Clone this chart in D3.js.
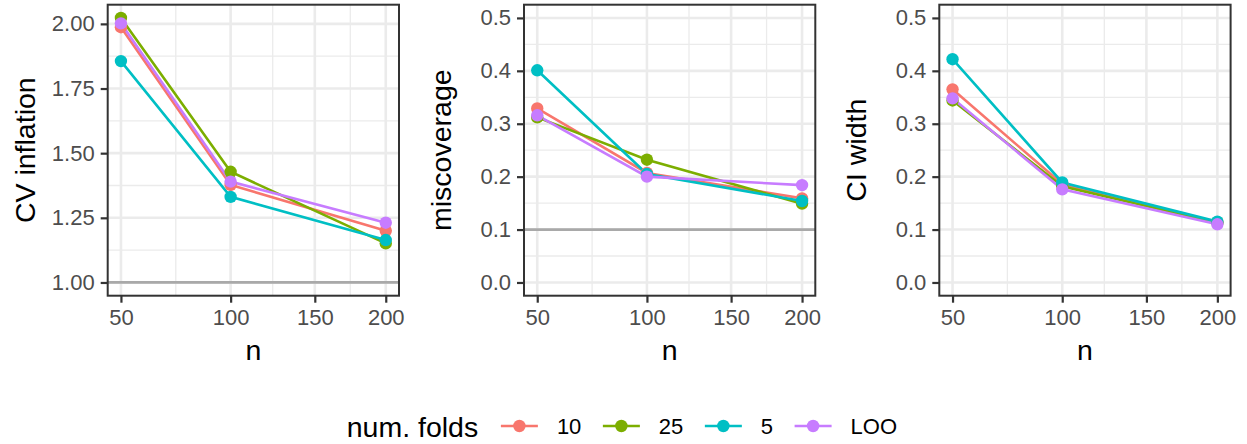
<!DOCTYPE html>
<html>
<head>
<meta charset="utf-8">
<script src="https://cdn.jsdelivr.net/npm/d3@7"></script>
<style>
  html, body { margin: 0; padding: 0; background: #fff; }
  svg { display: block; font-family: "Liberation Sans", Arial, Helvetica, sans-serif; }
</style>
</head>
<body>
<svg id="chart" width="1247" height="444"></svg>
<script>
// ---- data ----
const nValues = [50, 100, 200];
const xTicks = [50, 100, 150, 200];
const folds = ["10", "25", "5", "LOO"];
const foldColors = ["#F8766D", "#7CAE00", "#00BFC4", "#C77CFF"];

const cvInflation10  = [1.987, 1.377, 1.200];
const cvInflation25  = [2.023, 1.428, 1.151];
const cvInflation5   = [1.856, 1.331, 1.164];
const cvInflationLOO = [2.002, 1.390, 1.231];

const miscoverage10  = [0.329, 0.207, 0.159];
const miscoverage25  = [0.312, 0.232, 0.149];
const miscoverage5   = [0.401, 0.205, 0.154];
const miscoverageLOO = [0.316, 0.200, 0.184];

const ciWidth10  = [0.365, 0.186, 0.114];
const ciWidth25  = [0.344, 0.182, 0.113];
const ciWidth5   = [0.422, 0.189, 0.115];
const ciWidthLOO = [0.348, 0.176, 0.110];

const cvTicks = [1.00, 1.25, 1.50, 1.75, 2.00];
const propTicks = [0.0, 0.1, 0.2, 0.3, 0.4, 0.5];

const panels = [
  { title: "CV inflation", series: [cvInflation10, cvInflation25, cvInflation5, cvInflationLOO],
    limits: [1.0], ticks: cvTicks, fmt: d3.format(".2f"), hline: 1.0 },
  { title: "miscoverage", series: [miscoverage10, miscoverage25, miscoverage5, miscoverageLOO],
    limits: [0, 0.5], ticks: propTicks, fmt: d3.format(".1f"), hline: 0.1 },
  { title: "CI width", series: [ciWidth10, ciWidth25, ciWidth5, ciWidthLOO],
    limits: [0, 0.5], ticks: propTicks, fmt: d3.format(".1f"), hline: null }
];

// ---- layout ----
const svg = d3.select("#chart");
const panelLefts = [107.7, 524, 939.3];
const pw = 291.3, ph = 291, pt = 4.7;
const tickLen = 7;
const gridMajor = "#EBEBEB";
const pointR = 6.2;
const lineW = 2.6;

panels.forEach((p, pi) => {
  const left = panelLefts[pi];
  const g = svg.append("g").attr("transform", `translate(${left},${pt})`);

  // x: sqrt scale with 5% expansion in transformed space
  const sLo = Math.sqrt(d3.min(nValues)), sHi = Math.sqrt(d3.max(nValues));
  const sExp = (sHi - sLo) * 0.05;
  const xs = d3.scaleLinear().domain([sLo - sExp, sHi + sExp]).range([0, pw]);
  const x = v => xs(Math.sqrt(v));

  const allVals = p.series.flat().concat(p.limits);
  const yLo = d3.min(allVals), yHi = d3.max(allVals);
  const yExp = (yHi - yLo) * 0.05;
  const y = d3.scaleLinear().domain([yLo - yExp, yHi + yExp]).range([ph, 0]);

  // minor grid
  const xMinor = d3.pairs(xTicks).map(([a, b]) => (Math.sqrt(a) + Math.sqrt(b)) / 2);
  g.selectAll(".xminor").data(xMinor).enter().append("line")
    .attr("x1", d => xs(d)).attr("x2", d => xs(d)).attr("y1", 0).attr("y2", ph)
    .attr("stroke", gridMajor).attr("stroke-width", 1.3);
  const yMinor = d3.pairs(p.ticks).map(([a, b]) => (a + b) / 2);
  g.selectAll(".yminor").data(yMinor).enter().append("line")
    .attr("x1", 0).attr("x2", pw).attr("y1", d => y(d)).attr("y2", d => y(d))
    .attr("stroke", gridMajor).attr("stroke-width", 1.3);
  // major grid
  g.selectAll(".xmajor").data(xTicks).enter().append("line")
    .attr("x1", d => x(d)).attr("x2", d => x(d)).attr("y1", 0).attr("y2", ph)
    .attr("stroke", gridMajor).attr("stroke-width", 2.6);
  g.selectAll(".ymajor").data(p.ticks).enter().append("line")
    .attr("x1", 0).attr("x2", pw).attr("y1", d => y(d)).attr("y2", d => y(d))
    .attr("stroke", gridMajor).attr("stroke-width", 2.6);

  // reference line
  if (p.hline !== null) {
    g.append("line").attr("x1", 0).attr("x2", pw)
      .attr("y1", y(p.hline)).attr("y2", y(p.hline))
      .attr("stroke", "#A9A9A9").attr("stroke-width", 2.8);
  }

  // lines
  const lineGen = d3.line().x((d, i) => x(nValues[i])).y(d => y(d));
  p.series.forEach((s, si) => {
    g.append("path").datum(s).attr("d", lineGen)
      .attr("fill", "none").attr("stroke", foldColors[si]).attr("stroke-width", lineW);
  });
  // points
  p.series.forEach((s, si) => {
    g.selectAll(null).data(s).enter().append("circle")
      .attr("cx", (d, i) => x(nValues[i])).attr("cy", d => y(d)).attr("r", pointR)
      .attr("fill", foldColors[si]);
  });

  // border
  g.append("rect").attr("x", 0).attr("y", 0).attr("width", pw).attr("height", ph)
    .attr("fill", "none").attr("stroke", "#333333").attr("stroke-width", 2);

  // axes
  const xAxis = d3.axisBottom(xs).tickValues(xTicks.map(Math.sqrt))
    .tickFormat(d => Math.round(d * d)).tickSize(tickLen).tickPadding(7);
  const xa = g.append("g").attr("transform", `translate(0,${ph})`).call(xAxis);
  const yAxis = d3.axisLeft(y).tickValues(p.ticks).tickFormat(p.fmt).tickSize(tickLen).tickPadding(6);
  const ya = g.append("g").call(yAxis);
  [xa, ya].forEach(a => {
    a.select(".domain").remove();
    a.selectAll(".tick line").attr("stroke", "#333333").attr("stroke-width", 2.2);
    a.selectAll(".tick text").attr("fill", "#4D4D4D").style("font-size", "22px")
      .style("font-family", '"Liberation Sans", Arial, sans-serif');
  });
  xa.selectAll(".tick text").attr("dy", "0.71em");

  // axis titles
  g.append("text").attr("x", pw / 2).attr("y", 360 - pt)
    .attr("text-anchor", "middle").style("font-size", "28.5px").attr("fill", "#000")
    .text("n");
  g.append("text")
    .attr("transform", `translate(${-73},${ph / 2}) rotate(-90)`)
    .attr("text-anchor", "middle").style("font-size", "28.5px").attr("fill", "#000")
    .text(p.title);
});

// ---- legend ----
const leg = svg.append("g");
const legY = 426;
const legTitle = leg.append("text").attr("x", 346.7).attr("y", legY + 10.5)
  .style("font-size", "28.5px").attr("fill", "#000").text("num. folds");
let cx = 346.7 + legTitle.node().getComputedTextLength() + 22.7;
folds.forEach((f, i) => {
  leg.append("line").attr("x1", cx).attr("x2", cx + 37).attr("y1", legY).attr("y2", legY)
    .attr("stroke", foldColors[i]).attr("stroke-width", lineW);
  leg.append("circle").attr("cx", cx + 18.5).attr("cy", legY).attr("r", pointR).attr("fill", foldColors[i]);
  const t = leg.append("text").attr("x", cx + 56).attr("y", legY + 8)
    .style("font-size", "22px").attr("fill", "#000").text(f);
  cx = cx + 56 + t.node().getComputedTextLength() + 21.5;
});
</script>
</body>
</html>
